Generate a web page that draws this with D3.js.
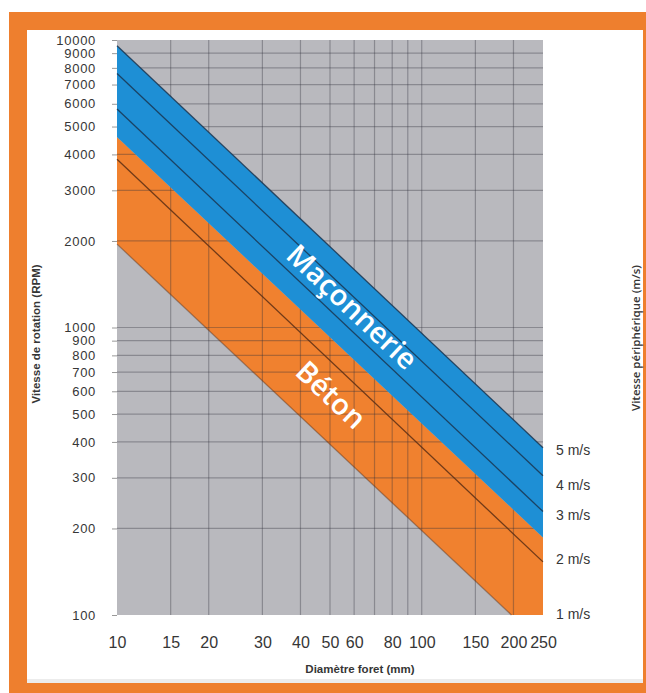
<!DOCTYPE html>
<html>
  <head>
    <meta charset="utf-8">
    <title>Vitesse de rotation</title>
    <script src="https://cdn.jsdelivr.net/npm/d3@7"></script>
    <style>
      body { margin: 0; background: #fff; }
      svg { display: block; }
      .tick text { font-family: "Liberation Sans", Arial, sans-serif; fill: #363636; }
      .title { font-family: "Liberation Sans", Arial, sans-serif; font-weight: bold; font-size: 11.5px; fill: #363636; }
      .band-label { font-family: "Open Sans", sans-serif; font-weight: 600; font-size: 29px; fill: #fff; }
      .speed { font-family: "Liberation Sans", Arial, sans-serif; font-size: 14px; fill: #363636; }
    </style>
  </head>

  <body>
    <svg id="chart" width="646" height="693"></svg>

    <script>
      // data
      xTicks = [10, 15, 20, 30, 40, 50, 60, 80, 100, 150, 200, 250];
      xGrid = [15, 20, 30, 40, 50, 60, 70, 80, 90, 100, 150, 200];
      yTicks = [100, 200, 300, 400, 500, 600, 700, 800, 900,
                1000, 2000, 3000, 4000, 5000, 6000, 7000, 8000, 9000, 10000];

      // constant peripheral speed lines, [diameter mm, rpm]
      speed1 = [[10, 1950], [197, 100]];
      speed2 = [[10, 3850], [250, 153]];
      speed3 = [[10, 5750], [250, 229]];
      speed4 = [[10, 7650], [250, 305]];
      speed5 = [[10, 9550], [250, 382]];
      bandEdge = [[10, 4600], [250, 186]]; // where orange (béton) meets blue (maçonnerie)
      speedNames = ["1 m/s", "2 m/s", "3 m/s", "4 m/s", "5 m/s"];
      speedLabelRpm = [101, 157, 222, 283, 376];

      // page elements
      svg = d3.select("#chart");

      // frame
      svg.append("rect").attr("x", 9).attr("y", 12).attr("width", 637).attr("height", 681)
        .attr("fill", "#ee7f2e");
      svg.append("rect").attr("x", 27).attr("y", 30).attr("width", 616).attr("height", 653)
        .attr("fill", "#fff");
      svg.append("rect").attr("x", 27).attr("y", 679).attr("width", 616).attr("height", 4)
        .attr("fill", "#ececec");

      x = d3.scaleLog().domain([10, 250]).range([117, 543]);
      y = d3.scaleLog().domain([100, 10000]).range([615, 40]);
      line = d3.line()
        .x(function(d) { return x(d[0]); })
        .y(function(d) { return y(d[1]); });

      plot = svg.append("g");

      // background
      plot.append("rect")
        .attr("x", x(10)).attr("y", y(10000))
        .attr("width", x(250) - x(10)).attr("height", y(100) - y(10000))
        .attr("fill", "#b9b9be");

      // orange band (béton)
      orangePoly = speed1.concat([[250, 100]], bandEdge.slice().reverse());
      plot.append("path")
        .attr("d", line(orangePoly) + "Z")
        .attr("fill", "#f0812f");

      // grid
      plot.selectAll(".vgrid")
        .data(xGrid)
        .enter().append("line")
          .attr("x1", function(d) { return x(d); })
          .attr("x2", function(d) { return x(d); })
          .attr("y1", y(10000)).attr("y2", y(100))
          .attr("stroke", "rgba(50,50,60,0.35)")
          .attr("stroke-width", 1.2);
      plot.selectAll(".hgrid")
        .data(yTicks.filter(function(d) { return d > 100 && d < 10000; }))
        .enter().append("line")
          .attr("x1", x(10)).attr("x2", x(250))
          .attr("y1", function(d) { return y(d); })
          .attr("y2", function(d) { return y(d); })
          .attr("stroke", "rgba(50,50,60,0.35)")
          .attr("stroke-width", 1.2);

      // blue band (maçonnerie)
      bluePoly = bandEdge.concat(speed5.slice().reverse());
      plot.append("path")
        .attr("d", line(bluePoly) + "Z")
        .attr("fill", "#1e8fd5");

      // speed lines
      [speed1, speed2, speed3, speed4, speed5].forEach(function(s, i) {
        plot.append("path")
          .attr("d", line(s))
          .attr("fill", "none")
          .attr("stroke", i < 2 ? "#5a2e14" : "#1a3550")
          .attr("stroke-opacity", i == 0 ? 0.45 : 0.85)
          .attr("stroke-width", 1.3);
      });

      // axes
      yAxis = d3.axisLeft(y)
        .tickValues(yTicks)
        .tickFormat(d3.format("d"))
        .tickSize(5)
        .tickPadding(16);
      yg = svg.append("g")
        .attr("transform", "translate(" + x(10) + ",0)")
        .call(yAxis);
      yg.select(".domain").remove();
      yg.selectAll(".tick line").attr("stroke", "#999");
      yg.selectAll(".tick text")
        .style("font-size", "13px")
        .style("letter-spacing", "0.7px");

      xAxis = d3.axisBottom(x)
        .tickValues(xTicks)
        .tickFormat(d3.format("d"))
        .tickSize(0)
        .tickPadding(22);
      xg = svg.append("g")
        .attr("transform", "translate(0," + y(100) + ")")
        .call(xAxis);
      xg.select(".domain").remove();
      xg.selectAll(".tick text").style("font-size", "16px");

      // speed labels
      svg.selectAll(".speed")
        .data(speedNames)
        .enter().append("text")
          .classed("speed", true)
          .attr("x", 556)
          .attr("y", function(d, i) { return y(speedLabelRpm[i]); })
          .attr("dy", "0.35em")
          .text(function(d) { return d; });

      // band labels
      angle = Math.atan2(y(speed5[1][1]) - y(speed5[0][1]), x(250) - x(10)) * 180 / Math.PI;
      svg.append("text").classed("band-label", true)
        .attr("text-anchor", "middle")
        .attr("transform", "translate(352,307) rotate(" + angle + ")")
        .attr("dy", "0.35em")
        .text("Maçonnerie");
      svg.append("text").classed("band-label", true)
        .attr("text-anchor", "middle")
        .attr("transform", "translate(331,395) rotate(" + angle + ")")
        .attr("dy", "0.35em")
        .text("Béton");

      // titles
      svg.append("text").classed("title", true)
        .attr("text-anchor", "middle")
        .attr("transform", "translate(40,334) rotate(-90)")
        .text("Vitesse de rotation (RPM)");
      svg.append("text").classed("title", true)
        .attr("text-anchor", "middle")
        .attr("x", 360).attr("y", 673)
        .text("Diamètre foret (mm)");
      svg.append("text")
        .attr("text-anchor", "middle")
        .attr("transform", "translate(640,338) rotate(-90)")
        .style("font-family", "'Open Sans', sans-serif")
        .style("font-size", "11.5px")
        .style("font-weight", 600)
        .style("fill", "#363636")
        .text("Vitesse périphérique (m/s)");
    </script>
  </body>
</html>
